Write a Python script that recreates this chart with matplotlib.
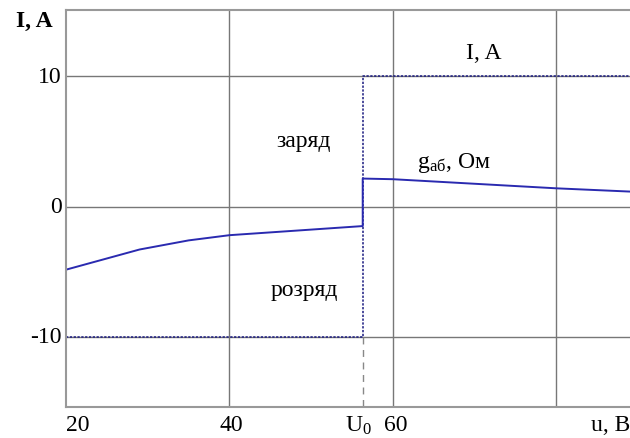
import matplotlib.pyplot as plt

plt.rcParams['font.family'] = ['Liberation Serif', 'DejaVu Serif']
plt.rcParams['mathtext.fontset'] = 'custom'
plt.rcParams['mathtext.rm'] = 'Liberation Serif'
plt.rcParams['mathtext.it'] = 'Liberation Serif:italic'

# battery current curve g_аб(u)
u_curve = [20, 29, 35, 40, 56.3, 56.3, 60, 80, 89]
i_curve = [-4.85, -3.3, -2.6, -2.2, -1.5, 2.15, 2.1, 1.4, 1.15]

# current step I(u)
U0 = 56.3
u_step = [20, U0, U0, 89]
i_step = [-10, -10, 10, 10]

xticks = [40, 60, 80]
yticks = [-10, 0, 10]

fig = plt.figure(figsize=(6.3, 4.39), dpi=100)
ax = fig.add_axes([66/630, 1-408/439, 1-66/630, (408-11)/439])
ax.set_xlim(20, 89)
ax.set_ylim(-15.4, 15.1)

ax.set_xticks(xticks)
ax.set_yticks(yticks)
ax.grid(True, color='#777777', lw=1)
ax.tick_params(length=0, labelbottom=False, labelleft=False)
for s in ['left', 'top', 'bottom']:
    ax.spines[s].set_color('#999999')
    ax.spines[s].set_linewidth(1.5)
ax.spines['right'].set_visible(False)

ax.plot(u_step, i_step, color='#1a1a80', lw=1.1, ls=(0, (1.5, 1)))
ax.plot(u_curve, i_curve, color='#2a2ab0', lw=1.4)
ax.plot([U0, U0], [-10, -15.4], color='#888888', lw=1, ls=(0, (5, 4)))

fs = 17
for v in yticks:
    ax.text(-0.008, (v + 15.4) / 30.5, str(v), transform=ax.transAxes,
            ha='right', va='center', fontsize=fs)
ax.text(20, -15.9, '20', ha='left', va='top', fontsize=fs)
ax.text(40.2, -15.9, '40', ha='center', va='top', fontsize=fs)
ax.text(60.4, -15.9, '60', ha='center', va='top', fontsize=fs)
ax.text(U0 - 0.5, -15.9, 'U$_0$', ha='center', va='top', fontsize=fs)
ax.text(89, -15.9, 'u, B', ha='right', va='top', fontsize=fs)
fig.text(34/630, 1-21/439, 'I, A', ha='center', va='center', fontsize=17, fontweight='bold')

ax.text(71.1, 11.8, 'I, A', ha='center', va='center', fontsize=fs)
ax.text(49.1, 5.1, 'заряд', ha='center', va='center', fontsize=fs)
ax.text(49.1, -6.4, 'розряд', ha='center', va='center', fontsize=fs)
ax.text(62.9, 2.5, 'g$_{\\rm аб}$, Ом', ha='left', va='bottom', fontsize=fs)

fig.savefig('out.png', dpi=100)
